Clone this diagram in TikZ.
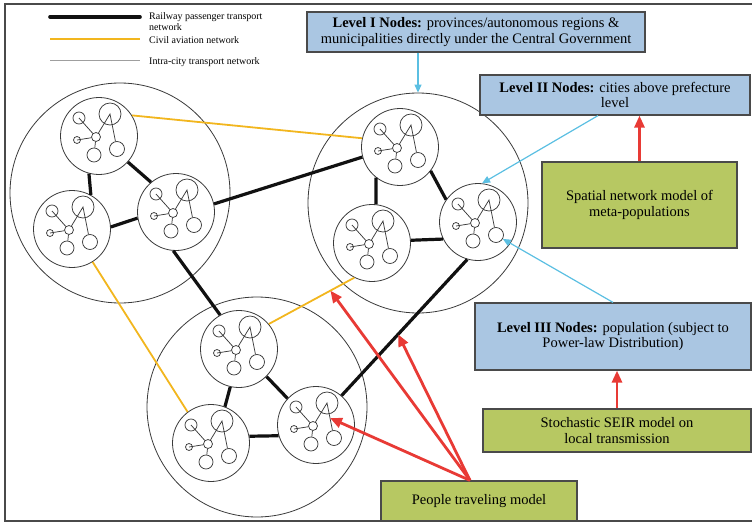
\documentclass[tikz,border=0pt]{standalone}
\usepackage{fontspec}
\setmainfont{Liberation Serif}
\usetikzlibrary{arrows.meta,calc}

\definecolor{railblack}{HTML}{111111}
\definecolor{aviation}{HTML}{F2B61E}
\definecolor{ringgray}{HTML}{3A3A3A}
\definecolor{levelblue}{HTML}{AAC6E2}
\definecolor{modelgreen}{HTML}{B7C862}
\definecolor{linkcyan}{HTML}{5BBFE2}
\definecolor{flowred}{HTML}{E83A35}
\definecolor{framegray}{HTML}{4A4A4A}

\tikzset{
  ring/.style={circle, draw=ringgray, line width=0.8pt, inner sep=0pt},
  province/.style={ring, minimum size=220pt},
  citycircle/.style={ring, minimum size=77pt},
  dot/.style={circle, draw=ringgray, line width=0.75pt, inner sep=0pt},
  innerlink/.style={draw=ringgray, line width=0.75pt},
  rail/.style={draw=railblack, line width=3.2pt},
  air/.style={draw=aviation, line width=1.8pt},
  intra/.style={draw=gray!75, line width=1pt},
  boxtext/.style={font=\fontsize{14.5}{15.5}\selectfont, align=center, inner sep=0pt},
  levelbox/.style={boxtext, draw=framegray, line width=1.2pt, fill=levelblue},
  modelbox/.style={boxtext, draw=framegray, line width=1.2pt, fill=modelgreen},
  keytext/.style={font=\fontsize{10}{11}\selectfont, align=left, inner sep=0pt},
  hint/.style={draw=linkcyan, line width=1.2pt, -{Triangle[length=8pt,width=7pt]}},
  feed/.style={draw=flowred, line width=2.8pt, -{Triangle[length=12pt,width=10pt]}},
  city/.pic={
    \node[citycircle] (-o) at (0,0) {};
    \node[dot, minimum size=12pt] (-a) at (-20,-18) {};
    \node[dot, minimum size=22pt] (-b) at (11,-22) {};
    \node[dot, minimum size=9pt]  (-c) at (-3,1) {};
    \node[dot, minimum size=7pt]  (-d) at (-22,4) {};
    \node[dot, minimum size=14pt] (-e) at (-5,19) {};
    \node[dot, minimum size=15pt] (-f) at (18,13) {};
    \draw[innerlink] (-a.center) -- (-c);
    \draw[innerlink] (-d.center) -- (-c);
    \draw[innerlink] (-c) -- (-e);
    \draw[innerlink] (-c) -- (-b.center) -- coordinate[pos=0.55] (-m) (-f);
  }
}

\begin{document}
\begin{tikzpicture}[x=1pt, y=-1pt]
  \useasboundingbox (0,0) rectangle (752,524);

  % frame
  \draw[framegray, line width=2.5pt] (752,4) -- (5,4) -- (5,521) -- (752,521);

  % legend
  \coordinate (k1a) at (50,17);  \coordinate (k1b) at (140,17);
  \coordinate (k2a) at (50,39);  \coordinate (k2b) at (140,39);
  \coordinate (k3a) at (50,61);  \coordinate (k3b) at (140,61);
  \draw[rail, line width=3.6pt, line cap=round] (k1a) -- (k1b);
  \draw[air] (k2a) -- (k2b);
  \draw[intra] (k3a) -- (k3b);
  \node[keytext, anchor=north west] (t1) at (149,12) {Railway passenger transport\\network};
  \node[keytext, anchor=west] (t2) at (149,40) {Civil aviation network};
  \node[keytext, anchor=west] (t3) at (149,62) {Intra-city transport network};

  % provinces
  \node[province] (PA) at (120,193) {};
  \node[province] (PB) at (418,203) {};
  \node[province] (PC) at (257,407) {};

  % cities
  \pic (A1) at (99,136) {city};
  \pic (A2) at (72,229) {city};
  \pic (A3) at (176,212) {city};
  \pic (B1) at (400,147) {city};
  \pic (B2) at (372,243) {city};
  \pic (B3) at (478,222) {city};
  \pic (C1) at (239,349) {city};
  \pic (C2) at (211,443) {city};
  \pic (C3) at (316,425) {city};

  % railway passenger transport network
  \draw[rail] (A1-o.255) -- (A2-o.61);
  \draw[rail] (A1-o.318) -- (A3-o.130);
  \draw[rail] (A2-o.3) -- (A3-o.189);
  \draw[rail] (A3-o.12) -- (B1-o.195);
  \draw[rail] (A3-o.266) -- (C1-o.119);
  \draw[rail] (B1-o.232) -- (B2-o.84);
  \draw[rail] (B1-o.322) -- (B3-o.145);
  \draw[rail] (B2-o.4) -- (B3-o.206);
  \draw[rail] (B3-o.254) -- coordinate[pos=0.55] (rb) (C3-o.49);
  \draw[rail] (C1-o.257) -- (C2-o.69);
  \draw[rail] (C1-o.315) -- (C3-o.137);
  \draw[rail] (C2-o.10) -- (C3-o.196);

  % civil aviation network
  \draw[air] (A1-o.32) -- (B1-o.167);
  \draw[air] (A2-o.302) -- (C2-o.127);
  \draw[air] (C1-o.40) -- coordinate[pos=0.72] (ya) (B2-o.243);

  % level boxes
  \node[levelbox, minimum width=338pt, minimum height=40pt] (L1) at (476,32)
    {\textbf{Level I Nodes:} provinces/autonomous regions \&\\municipalities directly under the Central Government};
  \node[levelbox, minimum width=270pt, minimum height=40pt] (L2) at (615,95)
    {\textbf{Level II Nodes:} cities above prefecture\\level};
  \node[levelbox, minimum width=276pt, minimum height=67pt] (L3) at (613,336.5)
    {\textbf{Level III Nodes:} population (subject to\\Power-law Distribution)};

  % model boxes
  \node[modelbox, minimum width=195pt, minimum height=86pt] (G) at (639.5,205)
    {Spatial network model of\\meta-populations};
  \node[modelbox, minimum width=268pt, minimum height=43pt] (S) at (617,430.5)
    {Stochastic SEIR model on\\local transmission};
  \node[modelbox, minimum width=196pt, minimum height=40pt] (P) at (479,501)
    {People traveling model};

  % level pointers
  \draw[hint] (PB.north |- L1.south) -- (PB.north);
  \draw[hint] ($(L2.south)+(-17,0)$) -- (B3-o.84);
  \draw[hint] (L3.north) -- (B3-f);

  % model links
  \draw[feed] (G.north) -- (G.north |- L2.south);
  \draw[feed] (S.north) -- (S.north |- L3.south);
  \coordinate (Ps) at ($(P.north)+(-9,0)$);
  \draw[feed] (Ps) -- (ya);
  \draw[feed] (Ps) -- (rb);
  \draw[feed] (Ps) -- (C3-m);
\end{tikzpicture}
\end{document}
